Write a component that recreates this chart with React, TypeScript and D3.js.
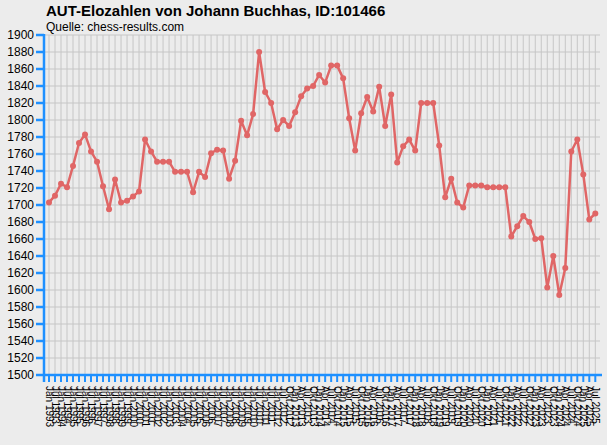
import React from "react";
import * as d3 from "d3";

const title = "AUT-Elozahlen von Johann Buchhas, ID:101466";
const subtitle = "Quelle: chess-results.com";

const periods: string[] = [
  "Jan 1993","Jul 1993","Jan 1994","Jul 1994","Jan 1995","Jul 1995","Jan 1996","Jul 1996",
  "Jan 1997","Jul 1997","Jan 1998","Jul 1998","Jan 1999","Jul 1999","Jan 2000","Jul 2000",
  "Jan 2001","Jul 2001","Jan 2002","Jul 2002","Jan 2003","Jul 2003","Jan 2004","Jul 2004",
  "Jan 2005","Jul 2005","Jan 2006","Jul 2006","Jan 2007","Jul 2007","Jan 2008","Jul 2008",
  "Jan 2009","Jul 2009","Jan 2010","Jul 2010","Jan 2011","Jul 2011","Jan 2012","Jul 2012",
  "Okt 2012",
  "Jan 2013","Apr 2013","Jul 2013","Okt 2013","Jan 2014","Apr 2014","Jul 2014","Okt 2014",
  "Jan 2015","Apr 2015","Jul 2015","Okt 2015","Jan 2016","Apr 2016","Jul 2016","Okt 2016",
  "Jan 2017","Apr 2017","Jul 2017","Okt 2017","Jan 2018","Apr 2018","Jul 2018","Okt 2018",
  "Jan 2019","Apr 2019","Jul 2019","Okt 2019","Jan 2020","Apr 2020","Jul 2020","Okt 2020",
  "Jan 2021","Apr 2021","Jul 2021","Okt 2021","Jan 2022","Apr 2022","Jul 2022","Okt 2022",
  "Jan 2023","Apr 2023","Jul 2023","Okt 2023","Jan 2024","Apr 2024","Jul 2024","Okt 2024",
  "Jan 2025","Apr 2025","Jul 2025",
];

const elo: number[] = [
  1703, 1711, 1725, 1721, 1746, 1773, 1783, 1763, 1751, 1722,
  1695, 1730, 1703, 1705, 1710, 1716, 1777, 1763, 1751, 1751,
  1751, 1739, 1739, 1739, 1715, 1739, 1733, 1761, 1765, 1764,
  1731, 1752, 1799, 1782, 1807, 1880, 1833, 1820, 1789, 1800,
  1793, 1809, 1828, 1837, 1840, 1853, 1844, 1864, 1864, 1849,
  1802, 1764, 1808, 1827, 1810, 1839, 1793, 1830, 1750, 1769,
  1777, 1764, 1820, 1820, 1820, 1770, 1709, 1731, 1703, 1697,
  1723, 1723, 1723, 1721, 1721, 1721, 1721, 1663, 1675, 1687,
  1680, 1660, 1661, 1603, 1640, 1594, 1626, 1763, 1777, 1736,
  1683, 1690,
];

const yTicks: number[] = d3.range(1500, 1901, 20);

const W = 607;
const H = 445;
const FONT = "Arial, 'Liberation Sans', sans-serif";
const AXIS = "#1e90ff";
const LINE = "#e06666";

export default function App() {
  const x = d3.scalePoint<string>().domain(periods).range([49, 595.3]);
  const y = d3.scaleLinear().domain([1500, 1900]).range([375, 35]);
  const line = d3
    .line<number>()
    .x((_, i) => x(periods[i]) as number)
    .y((d) => y(d));

  return (
    <svg
      width={W}
      height={H}
      style={{ position: "absolute", left: 0, top: 0, display: "block" }}
      fontFamily={FONT}
    >
      <rect x={0} y={0} width={W} height={H} fill="#ececec" />
      {/* grid */}
      {yTicks.map((t) => (
        <line key={"hg" + t} x1={44} x2={600} y1={y(t)} y2={y(t)} stroke="#c6c6c6" strokeWidth={1} />
      ))}
      {periods.map((p) => (
        <line key={"vg" + p} x1={x(p)} x2={x(p)} y1={y(1900)} y2={y(1500)} stroke="#c6c6c6" strokeWidth={1} />
      ))}
      {/* y axis */}
      <line x1={44} x2={44} y1={y(1900) - 1} y2={382} stroke={AXIS} strokeWidth={2.5} />
      {yTicks.map((t) => (
        <g key={"yt" + t}>
          <line x1={36} x2={44} y1={y(t)} y2={y(t)} stroke={AXIS} strokeWidth={2.5} />
          <text x={34} y={y(t)} dy="0.35em" textAnchor="end" fontSize={12} fill="#000">
            {t}
          </text>
        </g>
      ))}
      {/* x axis */}
      <line x1={44} x2={602} y1={y(1500)} y2={y(1500)} stroke={AXIS} strokeWidth={2.5} />
      {periods.map((p) => (
        <g key={"xt" + p}>
          <line x1={x(p)} x2={x(p)} y1={y(1500)} y2={382} stroke={AXIS} strokeWidth={2} />
          <text
            transform={`translate(${x(p)},386) rotate(90)`}
            dy="0.35em"
            fontSize={10}
            fill="#000"
          >
            {p}
          </text>
        </g>
      ))}
      {/* series */}
      <path d={line(elo) || ""} fill="none" stroke={LINE} strokeWidth={2.5} strokeLinejoin="round" />
      {elo.map((v, i) => (
        <circle key={"pt" + i} cx={x(periods[i]) as number} cy={y(v)} r={3} fill={LINE} />
      ))}
      {/* titles */}
      <text x={46} y={16} fontSize={15} fontWeight="bold" fill="#000">
        {title}
      </text>
      <text x={46} y={31} fontSize={12} fill="#000">
        {subtitle}
      </text>
    </svg>
  );
}
